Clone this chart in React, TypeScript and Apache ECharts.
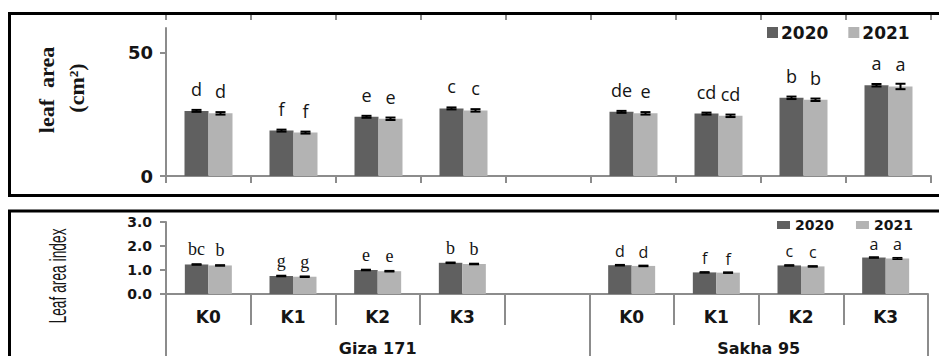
import React, { useEffect, useRef } from 'react';
import * as echarts from 'echarts';

// ---------- data ----------
const categories = ['K0', 'K1', 'K2', 'K3', '', 'K0', 'K1', 'K2', 'K3'];
const groupNames = ['Giza 171', 'Sakha 95'];
const groupSizes = [5, 4];
const years = ['2020', '2021'];

const leafArea2020 = [26.4, 18.4, 24.0, 27.4, null, 26.0, 25.3, 31.7, 36.8];
const leafArea2021 = [25.4, 17.6, 23.2, 26.6, null, 25.4, 24.4, 30.9, 36.3];
const leafAreaErr2020 = [0.4, 0.4, 0.4, 0.4, null, 0.4, 0.4, 0.5, 0.5];
const leafAreaErr2021 = [0.5, 0.4, 0.5, 0.5, null, 0.5, 0.5, 0.5, 1.1];
const leafAreaLetters2020 = ['d', 'f', 'e', 'c', '', 'de', 'cd', 'b', 'a'];
const leafAreaLetters2021 = ['d', 'f', 'e', 'c', '', 'e', 'cd', 'b', 'a'];

const lai2020 = [1.23, 0.75, 1.0, 1.3, null, 1.2, 0.9, 1.19, 1.52];
const lai2021 = [1.19, 0.72, 0.95, 1.25, null, 1.17, 0.89, 1.15, 1.48];
const laiErr2020 = [0.02, 0.02, 0.02, 0.02, null, 0.02, 0.02, 0.02, 0.02];
const laiErr2021 = [0.02, 0.02, 0.02, 0.02, null, 0.02, 0.02, 0.02, 0.03];
const laiLetters2020 = ['bc', 'g', 'e', 'b', '', 'd', 'f', 'c', 'a'];
const laiLetters2021 = ['b', 'g', 'e', 'b', '', 'd', 'f', 'c', 'a'];

const leafAreaTicks = [0, 50];
const laiTicks = [0, 1, 2, 3];

// ---------- styles ----------
const DARK = '#606060';
const LIGHT = '#b3b3b3';
const AXIS = '#8c8c8c';
const TXT = '#151515';
const BOLD_SANS = 'DejaVu Sans';

function errData(vals: (number | null)[], errs: (number | null)[]) {
  const out: number[][] = [];
  vals.forEach((v, i) => {
    if (v != null && errs[i] != null) out.push([i, v, errs[i] as number]);
  });
  return out;
}

function errRender(offset: number, capW: number, lw: number) {
  return (params: any, api: any) => {
    const x = api.value(0);
    const v = api.value(1);
    const e = api.value(2);
    const top = api.coord([x, v + e]);
    const bot = api.coord([x, v - e]);
    const cx = top[0] + offset;
    const st = { stroke: '#000', lineWidth: lw };
    return {
      type: 'group',
      children: [
        { type: 'line', shape: { x1: cx, y1: top[1], x2: cx, y2: bot[1] }, style: st },
        { type: 'line', shape: { x1: cx - capW / 2, y1: top[1], x2: cx + capW / 2, y2: top[1] }, style: st },
        { type: 'line', shape: { x1: cx - capW / 2, y1: bot[1], x2: cx + capW / 2, y2: bot[1] }, style: st },
      ],
    };
  };
}

function barData(vals: (number | null)[], fontFor?: (i: number) => any) {
  return vals.map((v, i) => {
    const item: any = { value: v == null ? '-' : v };
    if (fontFor) item.label = fontFor(i);
    return item;
  });
}

export default function App() {
  const ref = useRef<HTMLDivElement>(null);

  useEffect(() => {
    const chart = echarts.init(ref.current!, null, { renderer: 'svg' });

    // group boundaries / centres in category units
    const groupBounds: number[] = [0];
    groupSizes.forEach((s) => groupBounds.push(groupBounds[groupBounds.length - 1] + s));
    const groupCenters = groupSizes.map((s, i) => groupBounds[i] + s / 2);

    const topBarW = 24;
    const botBarW = 23.5;
    const laiFont = (i: number) =>
      i < groupSizes[0]
        ? { fontFamily: 'Liberation Serif', fontSize: 18 }
        : { fontFamily: 'Open Sans', fontSize: 16 };

    const catTick = (len: number, inside = false) => ({
      show: true,
      interval: 0,
      inside,
      length: len,
      lineStyle: { color: AXIS, width: 2 },
    });

    const option: any = {
      animation: false,
      backgroundColor: '#fff',
      grid: [
        { left: 166, top: 28, width: 765, height: 148, outerBoundsMode: 'none' },
        { left: 166, top: 222, width: 762, height: 72, outerBoundsMode: 'none' },
      ],
      legend: [
        {
          data: years,
          left: 762,
          top: 19,
          icon: 'rect',
          itemWidth: 11,
          itemHeight: 11,
          itemGap: 20,
          textStyle: { fontFamily: BOLD_SANS, fontWeight: 'bold', fontSize: 17, color: TXT, padding: [0, 0, 0, -2] },
          selectedMode: false,
        },
        {
          data: years,
          left: 772,
          top: 213,
          icon: 'rect',
          itemWidth: 13,
          itemHeight: 8,
          itemGap: 22,
          textStyle: { fontFamily: BOLD_SANS, fontWeight: 'bold', fontSize: 14, color: TXT },
          selectedMode: false,
        },
      ],
      xAxis: [
        {
          gridIndex: 0,
          type: 'category',
          data: categories,
          position: 'bottom',
          axisLine: { show: true, lineStyle: { color: AXIS, width: 2 } },
          axisTick: catTick(7),
          axisLabel: { show: false },
        },
        {
          gridIndex: 0,
          type: 'category',
          data: categories,
          position: 'top',
          offset: 13,
          axisLine: { show: false },
          axisTick: catTick(5, true),
          axisLabel: { show: false },
        },
        {
          gridIndex: 1,
          type: 'category',
          data: categories,
          position: 'bottom',
          axisLine: { show: true, lineStyle: { color: AXIS, width: 2 } },
          axisTick: catTick(31),
          axisLabel: {
            margin: 14,
            fontFamily: BOLD_SANS,
            fontWeight: 'bold',
            fontSize: 17,
            color: TXT,
            interval: 0,
          },
        },
        {
          gridIndex: 1,
          type: 'value',
          position: 'bottom',
          min: groupBounds[0],
          max: groupBounds[groupBounds.length - 1],
          axisLine: { show: false },
          splitLine: { show: false },
          axisTick: { show: true, customValues: groupBounds, length: 64, lineStyle: { color: AXIS, width: 2 } },
          axisLabel: {
            customValues: groupCenters,
            margin: 46,
            fontFamily: BOLD_SANS,
            fontWeight: 'bold',
            fontSize: 16,
            color: TXT,
            formatter: (v: number) => {
              const k = groupCenters.indexOf(v);
              return k >= 0 ? groupNames[k] : '';
            },
          },
        },
      ],
      yAxis: [
        {
          gridIndex: 0,
          type: 'value',
          min: 0,
          max: 60,
          splitLine: { show: false },
          axisLine: { show: true, lineStyle: { color: AXIS, width: 2 } },
          axisTick: { show: true, customValues: leafAreaTicks, length: 6, lineStyle: { color: AXIS, width: 2 } },
          axisLabel: {
            customValues: leafAreaTicks,
            margin: 13,
            fontFamily: BOLD_SANS,
            fontWeight: 'bold',
            fontSize: 18,
            color: TXT,
          },
        },
        {
          gridIndex: 1,
          type: 'value',
          min: 0,
          max: 3,
          interval: 1,
          splitLine: { show: false },
          axisLine: { show: true, lineStyle: { color: AXIS, width: 2 } },
          axisTick: { show: true, customValues: laiTicks, length: 6, lineStyle: { color: AXIS, width: 2 } },
          axisLabel: {
            customValues: laiTicks,
            margin: 14,
            fontFamily: BOLD_SANS,
            fontWeight: 'bold',
            fontSize: 14,
            color: TXT,
            formatter: (v: number) => v.toFixed(1),
          },
        },
      ],
      series: [
        {
          name: years[0],
          type: 'bar',
          xAxisIndex: 0,
          yAxisIndex: 0,
          barWidth: topBarW,
          barGap: '0%',
          itemStyle: { color: DARK },
          data: barData(leafArea2020),
          label: {
            show: true,
            position: 'top',
            distance: 13,
            fontFamily: 'Open Sans',
            fontSize: 18,
            color: TXT,
            formatter: (p: any) => leafAreaLetters2020[p.dataIndex],
          },
        },
        {
          name: years[1],
          type: 'bar',
          xAxisIndex: 0,
          yAxisIndex: 0,
          barWidth: topBarW,
          barGap: '0%',
          itemStyle: { color: LIGHT },
          data: barData(leafArea2021),
          label: {
            show: true,
            position: 'top',
            distance: 13,
            fontFamily: 'Open Sans',
            fontSize: 18,
            color: TXT,
            formatter: (p: any) => leafAreaLetters2021[p.dataIndex],
          },
        },
        {
          name: years[0],
          type: 'bar',
          xAxisIndex: 2,
          yAxisIndex: 1,
          barWidth: botBarW,
          barGap: '0%',
          itemStyle: { color: DARK },
          data: barData(lai2020, laiFont),
          label: {
            show: true,
            position: 'top',
            distance: 6,
            color: TXT,
            formatter: (p: any) => laiLetters2020[p.dataIndex],
          },
        },
        {
          name: years[1],
          type: 'bar',
          xAxisIndex: 2,
          yAxisIndex: 1,
          barWidth: botBarW,
          barGap: '0%',
          itemStyle: { color: LIGHT },
          data: barData(lai2021, laiFont),
          label: {
            show: true,
            position: 'top',
            distance: 6,
            color: TXT,
            formatter: (p: any) => laiLetters2021[p.dataIndex],
          },
        },
        {
          name: 'err-la-2020',
          type: 'custom',
          xAxisIndex: 0,
          yAxisIndex: 0,
          z: 5,
          encode: { x: 0, y: 1 },
          renderItem: errRender(-topBarW / 2, 10, 2),
          data: errData(leafArea2020, leafAreaErr2020),
        },
        {
          name: 'err-la-2021',
          type: 'custom',
          xAxisIndex: 0,
          yAxisIndex: 0,
          z: 5,
          encode: { x: 0, y: 1 },
          renderItem: errRender(topBarW / 2, 10, 2),
          data: errData(leafArea2021, leafAreaErr2021),
        },
        {
          name: 'err-lai-2020',
          type: 'custom',
          xAxisIndex: 2,
          yAxisIndex: 1,
          z: 5,
          encode: { x: 0, y: 1 },
          renderItem: errRender(-botBarW / 2, 10, 1.6),
          data: errData(lai2020, laiErr2020),
        },
        {
          name: 'err-lai-2021',
          type: 'custom',
          xAxisIndex: 2,
          yAxisIndex: 1,
          z: 5,
          encode: { x: 0, y: 1 },
          renderItem: errRender(botBarW / 2, 10, 1.6),
          data: errData(lai2021, laiErr2021),
        },
      ],
      graphic: [
        {
          type: 'rect',
          z: -1,
          shape: { x: 9.5, y: 13.5, width: 960, height: 182 },
          style: { fill: 'none', stroke: '#000', lineWidth: 3 },
        },
        {
          type: 'rect',
          z: -1,
          shape: { x: 9.5, y: 211, width: 960, height: 200 },
          style: { fill: 'none', stroke: '#000', lineWidth: 3 },
        },
        {
          type: 'text',
          x: 46,
          y: 90,
          rotation: Math.PI / 2,
          style: {
            text: 'leaf  area',
            fontFamily: 'Liberation Serif',
            fontWeight: 'bold',
            fontSize: 22,
            fill: TXT,
            textAlign: 'center',
            textVerticalAlign: 'middle',
          },
        },
        {
          type: 'text',
          x: 76,
          y: 88,
          rotation: Math.PI / 2,
          style: {
            text: '(cm²)',
            fontFamily: 'Liberation Serif',
            fontWeight: 'bold',
            fontSize: 22,
            fill: TXT,
            textAlign: 'center',
            textVerticalAlign: 'middle',
          },
        },
        {
          type: 'text',
          x: 58,
          y: 276,
          rotation: Math.PI / 2,
          scaleX: 0.6,
          style: {
            text: 'Leaf area index',
            fontFamily: 'Liberation Sans',
            fontSize: 23,
            fill: TXT,
            textAlign: 'center',
            textVerticalAlign: 'middle',
          },
        },
      ],
    };

    chart.setOption(option);
    return () => chart.dispose();
  }, []);

  return (
    <div
      ref={ref}
      style={{ position: 'fixed', left: 0, top: 0, width: 939, height: 356, background: '#fff' }}
    />
  );
}
